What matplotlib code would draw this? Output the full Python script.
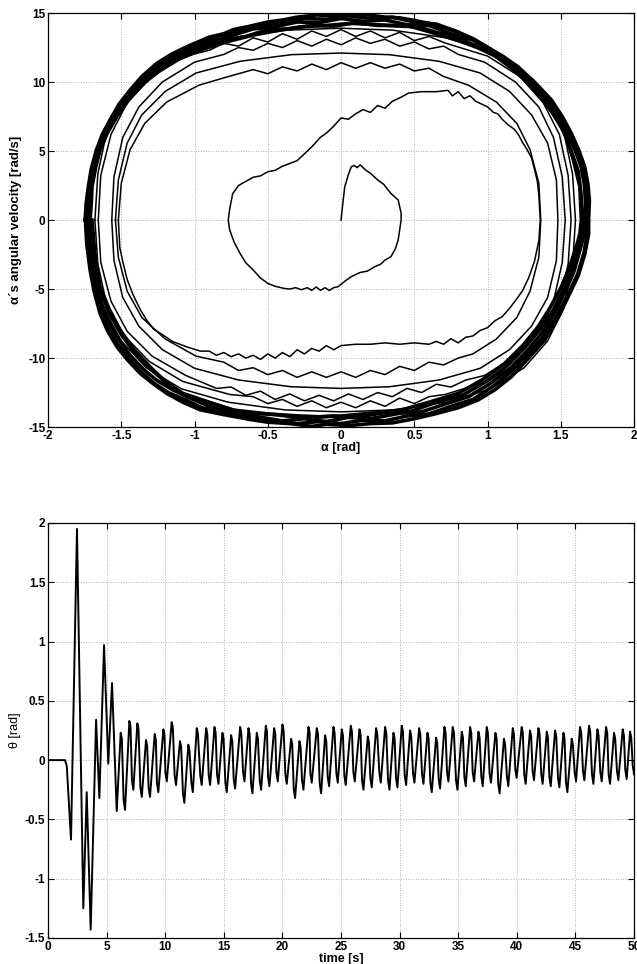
import numpy as np
import matplotlib
matplotlib.use("Agg")
import matplotlib.pyplot as plt
from matplotlib.ticker import FuncFormatter

plt.rcParams['font.family'] = ['Liberation Sans', 'DejaVu Sans']

# ---- phase portrait: alpha [rad] vs alpha's angular velocity [rad/s] ----
# start spiral
loop_a = [
    (0, 0), (0.01, 1.0), (0.025, 2.4), (0.05, 3.3), (0.07, 3.86), (0.09, 3.95), (0.11, 3.8), (0.13, 4.0),
    (0.15, 3.8), (0.17, 3.6), (0.2, 3.4), (0.23, 3.1), (0.25, 2.9), (0.29, 2.6), (0.34, 1.93), (0.39, 1.45),
    (0.41, 0.5), (0.41, 0), (0.39, -1.45), (0.37, -2.1), (0.34, -2.66), (0.3, -2.9), (0.27, -3.2),
    (0.23, -3.38), (0.18, -3.7), (0.13, -3.8), (0.07, -4.1), (0.03, -4.4), (-0.02, -4.83), (-0.05, -4.9),
    (-0.08, -5.1), (-0.11, -4.9), (-0.14, -5.1), (-0.17, -4.85), (-0.2, -5.1), (-0.23, -4.9), (-0.27, -5.05),
    (-0.31, -4.9), (-0.35, -5.0), (-0.39, -4.95), (-0.45, -4.8), (-0.5, -4.59), (-0.55, -4.2), (-0.6, -3.62),
    (-0.65, -3.1), (-0.69, -2.41), (-0.73, -1.6), (-0.76, -0.72), (-0.77, 0),
    (-0.76, 0.8), (-0.74, 1.9), (-0.7, 2.5), (-0.65, 2.8), (-0.6, 3.1), (-0.55, 3.2), (-0.5, 3.5),
    (-0.45, 3.6), (-0.4, 3.9), (-0.35, 4.1), (-0.3, 4.3), (-0.25, 4.8), (-0.2, 5.3), (-0.14, 6.0),
    (-0.1, 6.3), (-0.05, 6.8), (0.0, 7.4), (0.05, 7.3), (0.1, 7.7), (0.15, 8.0), (0.2, 7.8), (0.25, 8.3),
    (0.3, 8.1), (0.35, 8.6), (0.41, 8.9), (0.46, 9.2), (0.55, 9.3), (0.65, 9.3), (0.73, 9.4), (0.76, 9.0),
    (0.8, 9.3), (0.84, 8.8), (0.88, 9.0), (0.92, 8.6), (0.96, 8.4), (1.0, 8.2), (1.04, 7.8), (1.07, 7.7),
    (1.1, 7.3), (1.14, 6.9), (1.18, 6.6), (1.21, 6.2), (1.24, 5.6), (1.27, 5.1), (1.3, 4.5), (1.32, 3.7),
    (1.34, 2.8), (1.35, 1.8), (1.36, 0),
    (1.35, -1.5), (1.32, -3.0), (1.28, -4.2), (1.24, -5.1), (1.2, -5.7), (1.15, -6.4), (1.1, -7.0),
    (1.05, -7.3), (1.0, -7.8), (0.95, -8.0), (0.9, -8.4), (0.85, -8.5), (0.8, -8.9), (0.75, -8.6),
    (0.7, -9.0), (0.65, -8.8), (0.6, -9.0), (0.5, -8.9), (0.4, -9.0), (0.3, -8.9), (0.2, -9.0), (0.1, -9.0),
    (0.0, -9.1), (-0.05, -9.4), (-0.1, -9.1), (-0.15, -9.5), (-0.2, -9.3), (-0.25, -9.7), (-0.3, -9.4),
    (-0.35, -9.9), (-0.4, -9.6), (-0.45, -10.0), (-0.5, -9.7), (-0.55, -10.1), (-0.6, -9.8), (-0.65, -10.0),
    (-0.7, -9.7), (-0.75, -9.9), (-0.8, -9.6), (-0.85, -9.8), (-0.9, -9.5), (-0.96, -9.5), (-1.05, -9.2),
    (-1.15, -8.8), (-1.22, -8.3), (-1.28, -7.9), (-1.33, -7.2), (-1.37, -6.5), (-1.42, -5.4), (-1.46, -4.3),
    (-1.49, -3.0), (-1.51, -2.0), (-1.52, 0),
]

loop_b = [
    (-1.52, 0), (-1.50, 2.66), (-1.44, 5.1), (-1.34, 7.0), (-1.19, 8.55), (-0.97, 9.77), (-0.8, 10.3),
    (-0.7, 10.6), (-0.6, 10.9), (-0.5, 10.6), (-0.4, 11.1), (-0.3, 10.8), (-0.2, 11.3), (-0.1, 10.9),
    (0.0, 11.4), (0.1, 11.0), (0.2, 11.4), (0.3, 11.0), (0.4, 11.3), (0.5, 10.8), (0.6, 11.0), (0.7, 10.4),
    (0.87, 9.77), (1.06, 8.55), (1.20, 7.0), (1.29, 5.1), (1.35, 2.66), (1.363, 0),
    (1.35, -2.69), (1.29, -5.15), (1.20, -7.06), (1.06, -8.62), (0.9, -9.7), (0.8, -10.0), (0.7, -10.5),
    (0.6, -10.3), (0.5, -10.9), (0.4, -10.6), (0.3, -11.2), (0.2, -10.9), (0.1, -11.4), (0.0, -11.0),
    (-0.1, -11.4), (-0.2, -11.0), (-0.3, -11.4), (-0.4, -10.9), (-0.5, -11.2), (-0.6, -10.7), (-0.7, -10.9),
    (-0.8, -10.3), (-0.99, -9.86), (-1.2, -8.62), (-1.36, -7.06), (-1.46, -5.15), (-1.52, -2.69), (-1.54, 0),
]

loop_c = [
    (-1.54, 0), (-1.52, 2.9), (-1.46, 5.57), (-1.36, 7.62), (-1.2, 9.32), (-0.99, 10.65), (-0.69, 11.5),
    (-0.34, 11.98), (0, 12.1), (0.33, 11.98), (0.67, 11.5), (0.95, 10.65), (1.15, 9.32), (1.30, 7.62),
    (1.41, 5.57), (1.47, 2.9), (1.48, 0),
    (1.47, -2.93), (1.41, -5.61), (1.30, -7.69), (1.15, -9.39), (0.95, -10.74), (0.67, -11.59),
    (0.33, -12.08), (0, -12.2), (-0.34, -12.08), (-0.7, -11.59), (-1.0, -10.74), (-1.22, -9.39),
    (-1.38, -7.69), (-1.49, -5.61), (-1.55, -2.93), (-1.565, 0),
]

loop_d = [
    (-1.565, 0), (-1.55, 3.12), (-1.49, 5.98), (-1.38, 8.19), (-1.22, 10.0), (-1.0, 11.44), (-0.8, 12.0),
    (-0.7, 12.5), (-0.6, 12.3), (-0.5, 12.8), (-0.4, 12.5), (-0.3, 13.0), (-0.2, 12.6), (-0.1, 13.1),
    (0.0, 12.7), (0.1, 13.2), (0.2, 12.8), (0.3, 13.1), (0.4, 12.6), (0.5, 12.9), (0.6, 12.4), (0.7, 12.6),
    (0.8, 12.0), (0.98, 11.44), (1.19, 10.0), (1.35, 8.19), (1.45, 5.98), (1.51, 3.12), (1.53, 0),
    (1.51, -3.07), (1.45, -5.89), (1.35, -8.06), (1.19, -9.86), (0.98, -11.26), (0.85, -11.6),
    (0.75, -12.1), (0.65, -11.9), (0.55, -12.5), (0.45, -12.2), (0.35, -12.8), (0.25, -12.5), (0.15, -13.0),
    (0.05, -12.6), (-0.05, -13.1), (-0.15, -12.7), (-0.25, -13.1), (-0.35, -12.6), (-0.45, -13.0),
    (-0.55, -12.4), (-0.65, -12.7), (-0.75, -12.1), (-0.85, -12.2), (-1.06, -11.26), (-1.29, -9.86),
    (-1.46, -8.06), (-1.57, -5.89), (-1.64, -3.07), (-1.657, 0),
]

loop_e = [
    (-1.657, 0), (-1.64, 3.24), (-1.57, 6.21), (-1.46, 8.5), (-1.29, 10.4), (-1.06, 11.88), (-0.9, 12.3),
    (-0.8, 12.8), (-0.7, 12.6), (-0.6, 13.2), (-0.5, 12.9), (-0.4, 13.5), (-0.3, 13.1), (-0.2, 13.7),
    (-0.1, 13.3), (0.0, 13.8), (0.1, 13.3), (0.2, 13.7), (0.3, 13.2), (0.4, 13.6), (0.5, 13.0), (0.6, 13.3),
    (0.71, 12.83), (1.0, 11.88), (1.22, 10.4), (1.38, 8.5), (1.49, 6.21), (1.55, 3.24), (1.57, 0),
    (1.55, -3.19), (1.49, -6.12), (1.38, -8.38), (1.22, -10.24), (1.0, -11.7), (0.71, -12.64),
    (0.6, -12.8), (0.5, -13.3), (0.4, -12.9), (0.3, -13.5), (0.2, -13.1), (0.1, -13.6), (0.0, -13.2),
    (-0.1, -13.6), (-0.2, -13.1), (-0.3, -13.5), (-0.4, -13.0), (-0.5, -13.3), (-0.6, -12.8),
    (-0.76, -12.64), (-1.08, -11.7), (-1.31, -10.24), (-1.48, -8.38), (-1.6, -6.12), (-1.66, -3.19), (-1.68, 0),
]

loop_f = [
    (-1.68, 0), (-1.66, 3.34), (-1.6, 6.39), (-1.48, 8.76), (-1.31, 10.7), (-1.08, 12.23), (-0.76, 13.2),
    (-0.37, 13.76), (0, 13.9), (0.35, 13.76), (0.72, 13.2), (1.02, 12.23), (1.25, 10.7), (1.41, 8.76),
    (1.52, 6.39), (1.58, 3.34), (1.60, 0),
    (1.58, -3.34), (1.52, -6.39), (1.41, -8.76), (1.25, -10.7), (1.02, -12.23), (0.72, -13.2),
    (0.35, -13.76), (0, -13.9), (-0.38, -13.76), (-0.77, -13.2), (-1.09, -12.23), (-1.33, -10.7),
    (-1.5, -8.76), (-1.62, -6.39), (-1.68, -3.34), (-1.70, 0),
]

# the dense limit cycle band: outer edge, three loops inside it, inner edge
band_outer = [
    (-1.747, 0), (-1.74, 1.2), (-1.725, 2.41), (-1.705, 3.7), (-1.67, 5.07), (-1.63, 6.2), (-1.577, 7.25),
    (-1.515, 8.4), (-1.44, 9.42), (-1.36, 10.4), (-1.258, 11.35), (-1.16, 12.0), (-1.053, 12.56),
    (-0.9, 13.25), (-0.8, 13.5), (-0.735, 13.8), (-0.62, 14.05), (-0.5, 14.35), (-0.394, 14.5), (-0.3, 14.7),
    (-0.166, 14.86), (-0.05, 14.8), (0.05, 14.95), (0.184, 14.86), (0.3, 14.7), (0.4, 14.65), (0.48, 14.5),
    (0.6, 14.25), (0.7, 13.95), (0.8, 13.6), (0.9, 13.1), (0.98, 12.6), (1.1, 11.9), (1.208, 11.1),
    (1.32, 10.0), (1.436, 8.7), (1.51, 7.5), (1.572, 6.28), (1.625, 5.0), (1.663, 3.86), (1.685, 2.6),
    (1.695, 1.45), (1.69, 0),
    (1.69, -1.0), (1.665, -2.41), (1.62, -4.0), (1.55, -5.56), (1.48, -7.1), (1.39, -8.7), (1.28, -10.0),
    (1.163, -11.35), (1.05, -12.3), (0.935, -13.04), (0.8, -13.6), (0.64, -14.05), (0.5, -14.4),
    (0.35, -14.7), (0.2, -14.75), (0.05, -14.9), (-0.1, -14.8), (-0.2, -14.95), (-0.35, -14.75),
    (-0.5, -14.65), (-0.621, -14.45), (-0.8, -14.1), (-0.962, -13.75), (-1.08, -13.2), (-1.19, -12.56),
    (-1.29, -11.8), (-1.372, -11.1), (-1.46, -10.1), (-1.53, -9.18), (-1.595, -8.0), (-1.645, -6.76),
    (-1.685, -5.2), (-1.713, -3.62), (-1.735, -1.8), (-1.745, 0),
]

band_mid1 = [
    (-1.74, 0), (-1.73, 1.2), (-1.72, 2.4), (-1.695, 3.75), (-1.665, 5.07), (-1.62, 6.2), (-1.565, 7.3),
    (-1.5, 8.45), (-1.42, 9.55), (-1.33, 10.5), (-1.225, 11.4), (-1.1, 12.15), (-0.98, 12.75), (-0.85, 13.3),
    (-0.7, 13.7), (-0.55, 14.1), (-0.4, 14.3), (-0.25, 14.6), (-0.1, 14.55), (0.05, 14.8), (0.2, 14.6),
    (0.35, 14.7), (0.5, 14.35), (0.65, 14.2), (0.78, 13.7), (0.9, 13.15), (1.02, 12.4), (1.15, 11.5),
    (1.27, 10.4), (1.37, 9.3), (1.46, 8.0), (1.53, 6.9), (1.59, 5.6), (1.64, 4.4), (1.665, 3.1), (1.68, 2.0),
    (1.68, 0),
    (1.675, -1.2), (1.66, -2.3), (1.615, -3.9), (1.55, -5.4), (1.47, -7.0), (1.38, -8.5), (1.27, -9.9),
    (1.15, -11.1), (1.03, -12.1), (0.9, -13.0), (0.75, -13.5), (0.6, -14.05), (0.45, -14.2), (0.3, -14.55),
    (0.15, -14.5), (0.0, -14.75), (-0.15, -14.6), (-0.3, -14.75), (-0.45, -14.5), (-0.6, -14.4),
    (-0.78, -13.95), (-0.95, -13.6), (-1.07, -13.0), (-1.18, -12.5), (-1.28, -11.8), (-1.37, -10.95),
    (-1.46, -9.9), (-1.53, -8.9), (-1.595, -7.6), (-1.645, -6.3), (-1.685, -4.8), (-1.71, -3.3),
    (-1.73, -1.6), (-1.735, 0),
]

band_mid2 = [
    (-1.73, 0), (-1.72, 1.2), (-1.71, 2.4), (-1.69, 3.8), (-1.66, 5.07), (-1.61, 6.25), (-1.555, 7.37),
    (-1.485, 8.5), (-1.40, 9.66), (-1.3, 10.6), (-1.19, 11.47), (-1.05, 12.25), (-0.9, 12.9), (-0.75, 13.35),
    (-0.6, 13.85), (-0.45, 14.0), (-0.3, 14.35), (-0.15, 14.3), (0.0, 14.6), (0.15, 14.4), (0.3, 14.5),
    (0.45, 14.15), (0.6, 14.1), (0.75, 13.5), (0.9, 13.05), (1.0, 12.4), (1.1, 11.8), (1.2, 10.9),
    (1.3, 9.9), (1.4, 8.7), (1.48, 7.5), (1.545, 6.25), (1.6, 5.0), (1.64, 3.8), (1.66, 2.6), (1.67, 1.2),
    (1.67, 0),
    (1.655, -1.2), (1.63, -2.2), (1.59, -3.7), (1.53, -5.2), (1.46, -6.7), (1.37, -8.2), (1.26, -9.6),
    (1.14, -10.9), (1.01, -11.9), (0.87, -12.8), (0.72, -13.3), (0.55, -13.9), (0.4, -14.0), (0.2, -14.4),
    (0.05, -14.3), (-0.1, -14.6), (-0.25, -14.4), (-0.4, -14.55), (-0.6, -14.2), (-0.75, -13.95),
    (-0.9, -13.5), (-1.03, -12.9), (-1.15, -12.3), (-1.26, -11.6), (-1.35, -10.8), (-1.44, -9.8),
    (-1.52, -8.6), (-1.59, -7.2), (-1.645, -5.8), (-1.68, -4.4), (-1.705, -3.0), (-1.72, -1.5), (-1.725, 0),
]

band_mid3 = [
    (-1.72, 0), (-1.71, 1.2), (-1.705, 2.4), (-1.68, 3.75), (-1.65, 5.07), (-1.6, 6.3), (-1.54, 7.45),
    (-1.46, 8.65), (-1.37, 9.8), (-1.27, 10.7), (-1.15, 11.55), (-1.0, 12.3), (-0.82, 12.95), (-0.65, 13.3),
    (-0.5, 13.8), (-0.35, 13.85), (-0.2, 14.1), (-0.05, 14.05), (0.1, 14.3), (0.25, 14.1), (0.45, 14.1),
    (0.6, 13.65), (0.8, 13.0), (0.93, 12.5), (1.05, 11.9), (1.17, 10.95), (1.28, 9.9), (1.4, 8.4),
    (1.5, 6.9), (1.565, 5.2), (1.62, 3.5), (1.64, 1.7), (1.65, 0),
    (1.64, -1.1), (1.62, -2.1), (1.575, -3.6), (1.52, -5.0), (1.45, -6.5), (1.36, -7.9), (1.25, -9.3),
    (1.13, -10.6), (0.99, -11.7), (0.83, -12.7), (0.65, -13.2), (0.48, -13.85), (0.3, -13.95), (0.1, -14.3),
    (-0.05, -14.2), (-0.25, -14.35), (-0.45, -14.1), (-0.68, -13.95), (-0.85, -13.4), (-1.05, -12.8),
    (-1.18, -11.9), (-1.3, -10.8), (-1.41, -9.6), (-1.5, -8.3), (-1.58, -6.8), (-1.64, -5.2), (-1.68, -3.8),
    (-1.7, -2.5), (-1.71, -1.2), (-1.71, 0),
]

band_inner = [
    (-1.713, 0), (-1.705, 1.2), (-1.70, 2.4), (-1.675, 3.8), (-1.645, 5.07), (-1.595, 6.3), (-1.53, 7.49),
    (-1.45, 8.7), (-1.35, 9.9), (-1.24, 10.8), (-1.12, 11.6), (-0.95, 12.35), (-0.85, 12.7), (-0.735, 13.04),
    (-0.6, 13.4), (-0.45, 13.7), (-0.28, 14.0), (-0.1, 14.1), (0.07, 14.25), (0.25, 14.15), (0.4, 14.05),
    (0.526, 14.0), (0.65, 13.6), (0.8, 13.2), (0.935, 12.56), (1.05, 11.9), (1.18, 11.0), (1.3, 9.9),
    (1.42, 8.2), (1.527, 6.28), (1.585, 4.4), (1.63, 2.41), (1.64, 0),
    (1.63, -1.0), (1.606, -1.93), (1.56, -3.4), (1.504, -4.83), (1.43, -6.3), (1.345, -7.73), (1.24, -9.1),
    (1.117, -10.39), (0.96, -11.6), (0.80, -12.56), (0.6, -13.2), (0.41, -13.77), (0.2, -14.0), (0.0, -14.2),
    (-0.157, -14.25), (-0.28, -14.2), (-0.5, -14.05), (-0.735, -13.77), (-0.9, -13.2), (-1.08, -12.56),
    (-1.2, -11.7), (-1.304, -10.63), (-1.42, -9.3), (-1.508, -7.97), (-1.585, -6.4), (-1.645, -4.83),
    (-1.68, -2.4), (-1.70, 0),
]

spiral_loops = [loop_a, loop_b, loop_c, loop_d, loop_e, loop_f]
band_loops = [band_outer, band_mid1, band_mid2, band_mid3, band_inner]

# ---- theta [rad] over time [s] ----
# start-up transient, turning points
transient_t = [0, 1.45, 1.6, 1.96, 2.47, 3.01, 3.30, 3.64, 4.10, 4.38, 4.78, 5.14, 5.46, 5.86]
transient_theta = [0, 0, -0.05, -0.67, 1.95, -1.25, -0.27, -1.43, 0.34, -0.32, 0.97, -0.03, 0.65, -0.43]

# steady oscillation: peaks and the troughs that follow them
peak_t = [
    6.20, 6.94, 7.62, 8.36, 9.10, 9.84, 10.55, 11.26, 11.97, 12.69, 13.49, 14.20, 14.88, 15.62,
    16.39, 17.10, 17.81, 18.58, 19.29, 20.00, 20.74, 21.45, 22.22, 22.93, 23.64, 24.35, 25.06, 25.83,
    26.57, 27.28, 27.99, 28.76, 29.47, 30.18, 30.89, 31.66, 32.37, 33.11, 33.82, 34.53, 35.30, 36.01,
    36.72, 37.43, 38.17, 38.90, 39.65, 40.41, 41.12, 41.84, 42.55, 43.26, 43.97, 44.68, 45.39, 46.16,
    46.87, 47.61, 48.29, 49.03, 49.66,
]
peak_theta = [
    0.23, 0.33, 0.31, 0.17, 0.22, 0.26, 0.32, 0.16, 0.13, 0.27, 0.27, 0.28, 0.23, 0.21,
    0.28, 0.27, 0.23, 0.29, 0.27, 0.30, 0.18, 0.16, 0.28, 0.27, 0.21, 0.28, 0.26, 0.29,
    0.26, 0.20, 0.27, 0.28, 0.23, 0.29, 0.25, 0.27, 0.23, 0.19, 0.28, 0.28, 0.24, 0.28,
    0.24, 0.28, 0.23, 0.18, 0.27, 0.28, 0.25, 0.27, 0.24, 0.25, 0.23, 0.18, 0.28, 0.29,
    0.26, 0.28, 0.23, 0.26, 0.24,
]
trough_t = [
    6.57, 7.28, 8.00, 8.70, 9.41, 10.13, 10.92, 11.63, 12.35, 13.11, 13.83, 14.54, 15.25, 15.96,
    16.76, 17.44, 18.18, 18.89, 19.60, 20.37, 21.08, 21.79, 22.50, 23.30, 23.98, 24.72, 25.40, 26.17,
    26.91, 27.62, 28.39, 29.13, 29.81, 30.55, 31.26, 32.03, 32.74, 33.45, 34.16, 34.93, 35.64, 36.35,
    37.09, 37.79, 38.53, 39.27, 39.98, 40.75, 41.46, 42.20, 42.89, 43.63, 44.31, 45.05, 45.76, 46.53,
    47.24, 47.95, 48.66, 49.37, 50.0,
]
trough_theta = [
    -0.42, -0.25, -0.31, -0.31, -0.27, -0.18, -0.21, -0.36, -0.27, -0.21, -0.21, -0.20, -0.27, -0.24,
    -0.18, -0.28, -0.25, -0.22, -0.18, -0.20, -0.32, -0.25, -0.19, -0.28, -0.22, -0.19, -0.21, -0.18,
    -0.25, -0.23, -0.19, -0.25, -0.23, -0.21, -0.19, -0.20, -0.27, -0.24, -0.18, -0.25, -0.22, -0.18,
    -0.22, -0.19, -0.28, -0.22, -0.15, -0.20, -0.17, -0.20, -0.22, -0.23, -0.27, -0.18, -0.17, -0.20,
    -0.18, -0.20, -0.17, -0.16, -0.12,
]

# each steady cycle: sharp peak, small shoulder, quick drop to a shelf, then the trough
line_t = list(transient_t)
line_theta = list(transient_theta)
for tp, p, tt, tr in zip(peak_t, peak_theta, trough_t, trough_theta):
    line_t += [tp, tp + 0.1, tt - 0.12, tt]
    line_theta += [p, p - 0.05, tr + 0.08, tr]


def matlab_axes(ax):
    ax.tick_params(direction="in", top=True, right=True, length=4, width=0.8,
                   labelsize=8.5, pad=2)
    ax.grid(True, linestyle=(0, (1, 2)), color="#9a9a9a", linewidth=0.6)
    for sp in ax.spines.values():
        sp.set_linewidth(0.9)
    ax.xaxis.set_major_formatter(FuncFormatter(lambda v, p: "%g" % v))
    ax.yaxis.set_major_formatter(FuncFormatter(lambda v, p: "%g" % v))
    for lab in ax.get_xticklabels() + ax.get_yticklabels():
        lab.set_fontweight("bold")


fig = plt.figure(figsize=(6.37, 9.64), dpi=100)

ax1 = fig.add_axes([0.0754, 0.557, 0.92, 0.4295])
for loop in band_loops:
    xy = np.array(loop)
    ax1.plot(xy[:, 0], xy[:, 1], color="black", linewidth=2.6, solid_joinstyle="round")
for loop in spiral_loops:
    xy = np.array(loop)
    ax1.plot(xy[:, 0], xy[:, 1], color="black", linewidth=1.1)
ax1.set_xlim(-2, 2)
ax1.set_ylim(-15, 15)
ax1.set_xticks(np.arange(-2, 2.01, 0.5))
ax1.set_yticks(np.arange(-15, 16, 5))
matlab_axes(ax1)
ax1.set_xlabel("α [rad]", fontsize=9, fontweight="bold", labelpad=0)
ax1.set_ylabel("α´s angular velocity [rad/s]", fontsize=9.5, fontweight="bold", labelpad=4)

ax2 = fig.add_axes([0.0754, 0.027, 0.92, 0.4305])
ax2.plot(line_t, line_theta, color="black", linewidth=1.4)
ax2.set_xlim(0, 50)
ax2.set_ylim(-1.5, 2)
ax2.set_xticks(np.arange(0, 51, 5))
ax2.set_yticks(np.arange(-1.5, 2.01, 0.5))
matlab_axes(ax2)
ax2.set_xlabel("time [s]", fontsize=9, fontweight="bold", labelpad=0)
ax2.set_ylabel("θ [rad]", fontsize=9, labelpad=3)

fig.savefig("out.png", dpi=100)
